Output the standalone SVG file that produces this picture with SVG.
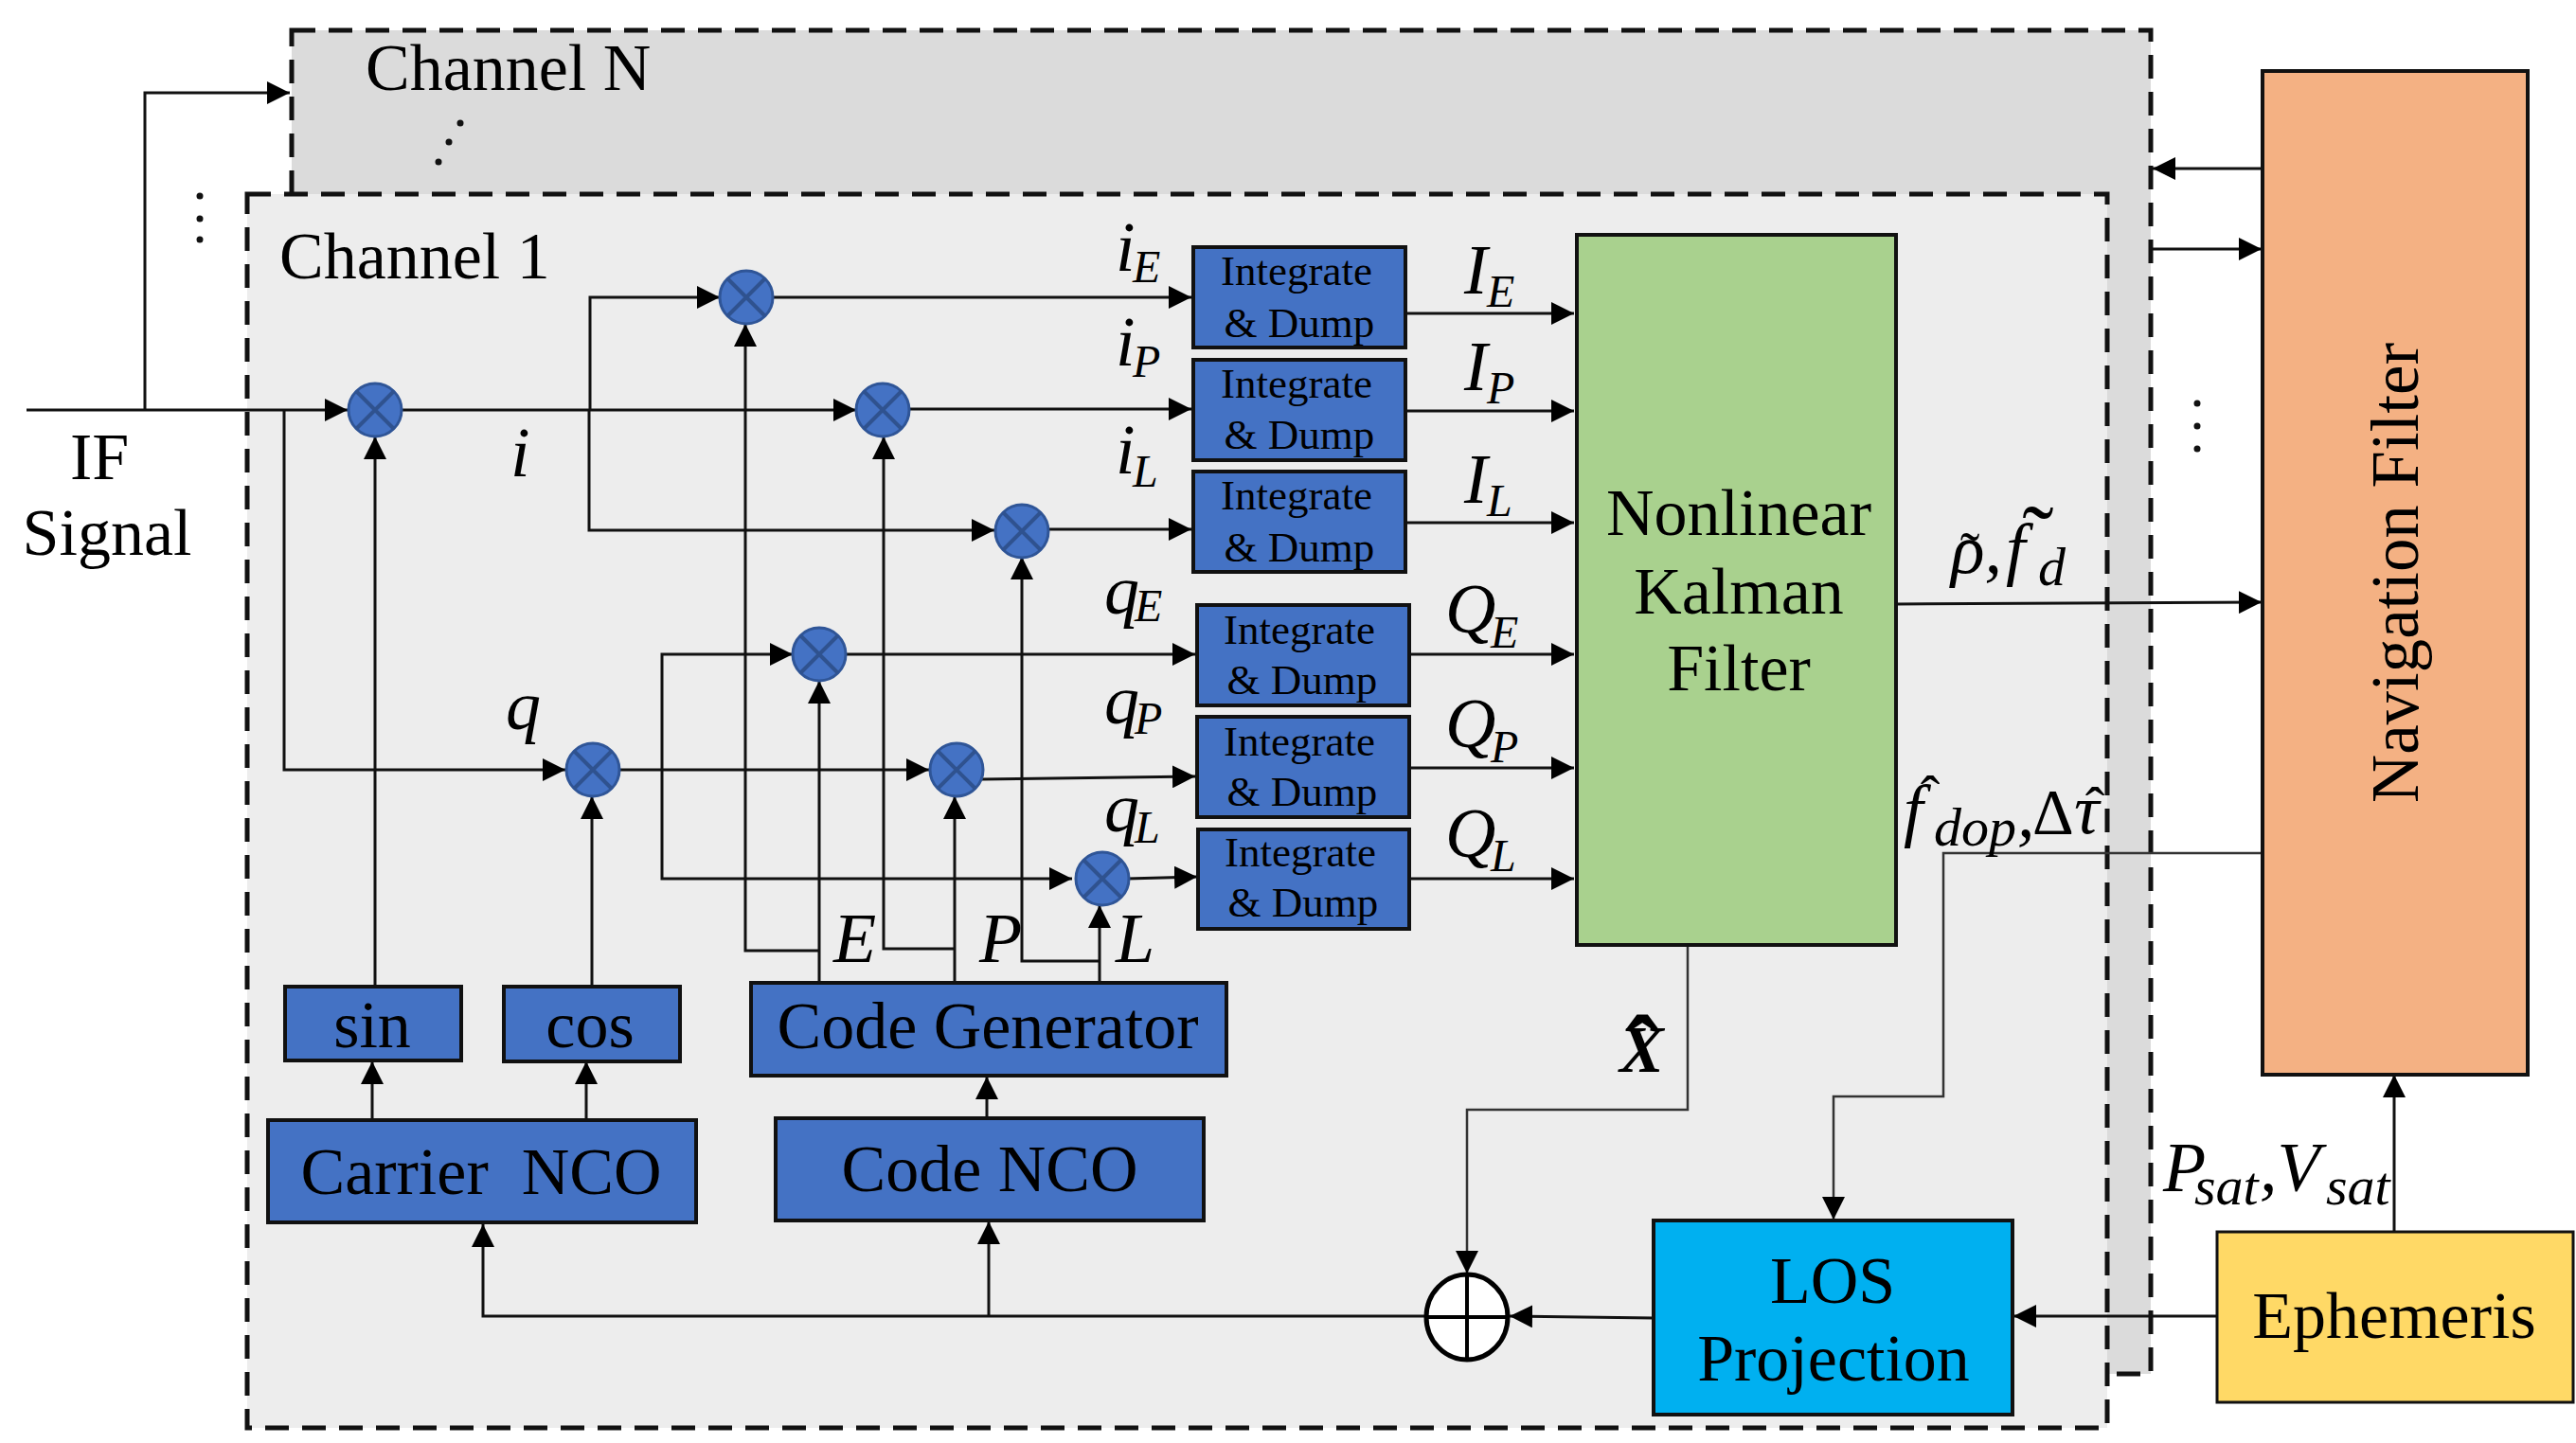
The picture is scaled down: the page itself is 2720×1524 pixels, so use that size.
<svg xmlns="http://www.w3.org/2000/svg" width="2720" height="1524" viewBox="0 0 2720 1524">
<style>
text{font-family:"Liberation Serif","Times New Roman",serif;fill:#000}
.b{fill:#4472c4;stroke:#111;stroke-width:4}
.t{font-size:70px;text-anchor:middle}
.s{font-size:45px;text-anchor:middle}
.m{font-size:74px;font-style:italic}
.sub{font-size:48px;font-style:italic}
.sub2{font-size:58px;font-style:italic}
.ac{text-anchor:middle;font-size:62px;font-style:normal}
.c{fill:none;stroke:#111;stroke-width:3}
.a{marker-end:url(#ah)}
.th{stroke:#333;stroke-width:2.5}
.d{stroke:#111;stroke-width:5;stroke-dasharray:25 14}
.dot{fill:#111}
</style>
<defs>
<marker id="ah" markerUnits="userSpaceOnUse" markerWidth="24" markerHeight="24" refX="24" refY="12" orient="auto"><path d="M0,0 L24,12 L0,24 z" fill="#000"/></marker>
<g id="mx"><circle r="28" fill="#4472c4" stroke="#2f5597" stroke-width="3"/><path d="M-20,-20 L20,20 M-20,20 L20,-20" stroke="#2f528f" stroke-width="4" fill="none"/></g>
</defs>
<rect width="2720" height="1524" fill="#fff"/>
<g id="channel-n"><rect x="308" y="32" width="1963" height="1419" fill="#dbdbdb" class="d"/><text x="386" y="95" class="t" style="text-anchor:start">Channel N</text>
<circle class="dot" cx="486" cy="130" r="3.5"/><circle class="dot" cx="474" cy="150" r="3.5"/><circle class="dot" cx="463" cy="171" r="3.5"/></g>
<g id="channel-1"><rect x="261" y="205" width="1964" height="1303" fill="#ededed" class="d"/><text x="295" y="294" class="t" style="text-anchor:start">Channel 1</text></g>
<g id="dots"><circle class="dot" cx="211" cy="207" r="3.5"/><circle class="dot" cx="211" cy="231" r="3.5"/><circle class="dot" cx="211" cy="253" r="3.5"/>
<circle class="dot" cx="2320" cy="426" r="3.5"/><circle class="dot" cx="2320" cy="450" r="3.5"/><circle class="dot" cx="2320" cy="474" r="3.5"/></g>
<g id="connectors" class="c">
<path d="M28,433 H367" class="a"/>
<path d="M153,433 V98 H306" class="a"/>
<path d="M300,433 V813 H597" class="a"/>
<path d="M424,433 H904" class="a"/>
<path d="M623,433 V314 H760" class="a"/>
<path d="M622,433 V560 H1050" class="a"/>
<path d="M816,314 H1258" class="a"/>
<path d="M960,432 H1258" class="a"/>
<path d="M1107,559 H1258" class="a"/>
<path d="M655,813 H981" class="a"/>
<path d="M699,813 V691 H837" class="a"/>
<path d="M699,813 V928 H1132" class="a"/>
<path d="M893,691 H1262" class="a"/>
<path d="M1037,823 L1262,820" class="a"/>
<path d="M1190,928 L1264,926" class="a"/>
<path d="M396,1040 V461" class="a"/>
<path d="M625,1040 V841" class="a"/>
<path d="M865,1036 V719" class="a"/>
<path d="M865,1004 H787 V342" class="a"/>
<path d="M1008,1036 V841" class="a"/>
<path d="M1008,1002 H933 V461" class="a"/>
<path d="M1161,1036 V956" class="a"/>
<path d="M1161,1015 H1079 V588" class="a"/>
<path d="M1481,331 H1662" class="a"/>
<path d="M1481,434 H1662" class="a"/>
<path d="M1481,552 H1662" class="a"/>
<path d="M1485,691 H1662" class="a"/>
<path d="M1485,811 H1662" class="a"/>
<path d="M1485,928 H1662" class="a"/>
<path d="M2002,638 L2388,636" class="a"/>
<path d="M2389,178 H2273" class="a"/>
<path d="M2272,263 H2388" class="a"/>
<path d="M2389,901 H2052 V1158 H1936 V1288" class="a th"/>
<path d="M1782,998 V1172 H1549 V1345" class="a th"/>
<path d="M2340,1390 H2126" class="a"/>
<path d="M2528,1300 V1135" class="a"/>
<path d="M1746,1392 L1594,1390" class="a"/>
<path d="M1505,1390 H510 V1293" class="a"/>
<path d="M1044,1390 V1290" class="a"/>
<path d="M393,1183 V1121" class="a"/>
<path d="M619,1183 V1121" class="a"/>
<path d="M1042,1181 V1137" class="a"/>
</g>
<g id="mixers">
<use href="#mx" x="396" y="433"/><use href="#mx" x="788" y="314"/><use href="#mx" x="932" y="433"/><use href="#mx" x="1079" y="561"/>
<use href="#mx" x="865" y="691"/><use href="#mx" x="626" y="813"/><use href="#mx" x="1010" y="813"/><use href="#mx" x="1164" y="928"/>
</g>
<g id="sum"><ellipse cx="1549" cy="1391" rx="43" ry="45" fill="#fff" stroke="#000" stroke-width="5"/><path d="M1506,1391 H1592 M1549,1346 V1436" stroke="#000" stroke-width="4"/></g>
<g id="id-ie"><rect class="b" x="1260" y="261" width="224" height="106"/><text class="s" x="1369" y="301">Integrate</text><text class="s" x="1372" y="356">&amp; Dump</text></g>
<g id="id-ip"><rect class="b" x="1260" y="380" width="224" height="106"/><text class="s" x="1369" y="420">Integrate</text><text class="s" x="1372" y="474">&amp; Dump</text></g>
<g id="id-il"><rect class="b" x="1260" y="498" width="224" height="106"/><text class="s" x="1369" y="538">Integrate</text><text class="s" x="1372" y="593">&amp; Dump</text></g>
<g id="id-qe"><rect class="b" x="1264" y="639" width="224" height="106"/><text class="s" x="1372" y="680">Integrate</text><text class="s" x="1375" y="733">&amp; Dump</text></g>
<g id="id-qp"><rect class="b" x="1264" y="757" width="224" height="106"/><text class="s" x="1372" y="798">Integrate</text><text class="s" x="1375" y="851">&amp; Dump</text></g>
<g id="id-ql"><rect class="b" x="1265" y="876" width="223" height="105"/><text class="s" x="1373" y="915">Integrate</text><text class="s" x="1376" y="968">&amp; Dump</text></g>
<g id="kalman"><rect x="1665" y="248" width="337" height="750" fill="#a9d18e" stroke="#111" stroke-width="4"/><text class="t" x="1836" y="565">Nonlinear</text><text class="t" x="1836" y="648">Kalman</text><text class="t" x="1836" y="729">Filter</text></g>
<g id="nav"><rect x="2389" y="75" width="280" height="1060" fill="#f4b183" stroke="#111" stroke-width="4"/><text class="t" style="font-size:72px" textLength="486" lengthAdjust="spacingAndGlyphs" transform="translate(2553,605) rotate(-90)">Navigation Filter</text></g>
<g id="sin"><rect class="b" x="301" y="1042" width="186" height="78"/><text class="t" x="393" y="1106">sin</text></g>
<g id="cos"><rect class="b" x="532" y="1042" width="186" height="79"/><text class="t" x="623" y="1106">cos</text></g>
<g id="code-gen"><rect class="b" x="793" y="1038" width="502" height="98"/><text class="t" x="1043" y="1107">Code Generator</text></g>
<g id="carrier-nco"><rect class="b" x="283" y="1183" width="452" height="108"/><text class="t" x="508" y="1261" xml:space="preserve">Carrier  NCO</text></g>
<g id="code-nco"><rect class="b" x="819" y="1181" width="452" height="108"/><text class="t" x="1045" y="1258">Code NCO</text></g>
<g id="los"><rect x="1746" y="1289" width="379" height="205" fill="#00b0f0" stroke="#111" stroke-width="4"/><text class="t" x="1935" y="1376">LOS</text><text class="t" x="1936" y="1458">Projection</text></g>
<g id="ephemeris"><rect x="2341" y="1301" width="376" height="180" fill="#ffd966" stroke="#111" stroke-width="3"/><text class="t" x="2528" y="1413">Ephemeris</text></g>
<g id="labels">
<text class="t" x="105" y="506">IF</text><text class="t" x="113" y="586">Signal</text>
<text class="m" x="539" y="503">i</text><text class="m" x="534" y="770">q</text>
<text class="m" x="1178" y="286">i<tspan class="sub" x="1196" y="298">E</tspan></text>
<text class="m" x="1178" y="386">i<tspan class="sub" x="1196" y="398">P</tspan></text>
<text class="m" x="1178" y="500">i<tspan class="sub" x="1196" y="514">L</tspan></text>
<text class="m" x="1166" y="648">q<tspan class="sub" x="1198" y="656">E</tspan></text>
<text class="m" x="1166" y="764">q<tspan class="sub" x="1198" y="775">P</tspan></text>
<text class="m" x="1166" y="878">q<tspan class="sub" x="1198" y="890">L</tspan></text>
<text class="m" x="1546" y="310">I<tspan class="sub" x="1570" y="324">E</tspan></text>
<text class="m" x="1546" y="412">I<tspan class="sub" x="1570" y="426">P</tspan></text>
<text class="m" x="1546" y="531">I<tspan class="sub" x="1570" y="545">L</tspan></text>
<text class="m" x="1526" y="668">Q<tspan class="sub" x="1574" y="684">E</tspan></text>
<text class="m" x="1526" y="789">Q<tspan class="sub" x="1574" y="805">P</tspan></text>
<text class="m" x="1526" y="905">Q<tspan class="sub" x="1574" y="920">L</tspan></text>
<text class="m" x="2060" y="605">ρ,<tspan class="ac" x="2080" y="605">˜</tspan><tspan x="2118" y="604">f</tspan><tspan class="ac" style="font-size:100px" x="2152" y="602">˜</tspan><tspan class="sub2" x="2152" y="618">d</tspan></text>
<text class="m" x="2010" y="880">f<tspan class="ac" x="2038" y="862">ˆ</tspan><tspan class="sub2" x="2042" y="893">dop</tspan><tspan x="2130" y="884">,</tspan><tspan style="font-size:68px;font-style:normal" x="2146" y="880">Δ</tspan><tspan x="2190" y="880">τ</tspan><tspan class="ac" x="2212" y="874">ˆ</tspan></text>
<text class="m" x="880" y="1016">E</text><text class="m" x="1034" y="1016">P</text><text class="m" x="1178" y="1016">L</text>
<text class="m" x="1710" y="1132" style="font-weight:bold;font-size:70px">X<tspan class="ac" style="font-size:110px;font-weight:bold" x="1734" y="1149">ˆ</tspan></text>
<text class="m" x="2284" y="1258">P<tspan class="sub2" x="2317" y="1272">sat</tspan><tspan x="2386" y="1258">,V</tspan><tspan class="sub2" x="2456" y="1272">sat</tspan></text>
</g>
</svg>
